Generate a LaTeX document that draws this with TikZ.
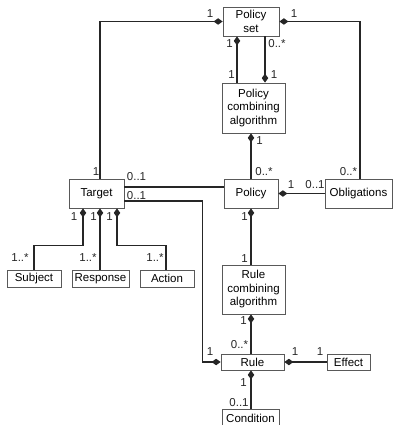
\documentclass[tikz,border=0pt]{standalone}
\usepackage{fontspec}
\setmainfont{Liberation Sans}
\usetikzlibrary{arrows.meta,positioning}

\begin{document}
\begin{tikzpicture}
%Policy language model
	[
	 x=1pt,y=-1pt,
	 %Styles
	 font=\fontsize{11.5}{13.5}\selectfont,
	 class_node/.style={rectangle,draw=black!65,line width=0.8pt,fill=white,inner sep=0pt,align=center,minimum height=17pt},
	 mult_label/.style={inner sep=0pt,text=black!85},
	 link/.style={draw=black!85,line width=1.4pt},
	 part_of/.style={link,{Diamond[length=9pt,width=6.5pt]}-},
	 whole_of/.style={link,-{Diamond[length=9pt,width=6.5pt]}}
	]
	\useasboundingbox (0,0) rectangle (394,425);

	%Node placement
	\node (pset) [class_node, minimum width=56pt, minimum height=29pt] at (251,21.5) {Policy\\set};
	\node (pca) [class_node, minimum width=63pt, minimum height=50pt] at (253.5,108) {Policy\\combining\\algorithm};
	\node (policy) [class_node, minimum width=54pt, minimum height=29pt] at (251,193.5) {Policy};
	\node (target) [class_node, minimum width=55pt, minimum height=29pt] at (96.5,193.5) {Target};
	\node (obl) [class_node, minimum width=67pt, minimum height=29pt] at (358.5,193.5) {Obligations};
	\node (subject) [class_node, minimum width=54pt] at (34,278.5) {Subject};
	\node (response) [class_node, minimum width=57pt] at (100.5,278.5) {Response};
	\node (action) [class_node, minimum width=54pt] at (167,278.5) {Action};
	\node (rca) [class_node, minimum width=63pt, minimum height=49pt] at (253.5,289.5) {Rule\\combining\\algorithm};
	\node (rule) [class_node, minimum width=63pt, minimum height=16pt] at (252.5,362) {Rule};
	\node (effect) [class_node, minimum width=43pt, minimum height=16pt] at (348.5,362) {Effect};
	\node (cond) [class_node, minimum width=57pt, minimum height=18pt] at (250.5,418) {Condition};

	%Edges
	\draw [part_of] (pset.west) -| ([xshift=3.5pt]target.north);
	\draw [part_of] (pset.east) -| ([xshift=1.5pt]obl.north);
	\draw [part_of] ([xshift=-14pt]pset.south) -- ([xshift=-14pt]pset.south |- pca.north);
	\draw [whole_of] ([xshift=14pt]pset.south) -- ([xshift=14pt]pset.south |- pca.north);
	\draw [part_of] (pca.south -| policy.north) -- (policy.north);
	\draw [link] ([yshift=6.5pt]target.east) -- ([yshift=6.5pt]target.east -| policy.west);
	\draw [whole_of] ([yshift=-7.5pt]target.east) -| ([xshift=-18pt]rule.west) -- (rule.west);
	\draw [part_of] (policy.east) -- (obl.west);
	\draw [part_of] (policy.south) -- (policy.south |- rca.north);
	\draw [part_of] (rca.south -| policy.south) -- (rule.north -| policy.south);
	\draw [part_of] (rule.east) -- (effect.west);
	\draw [part_of] (rule.south -| policy.south) -- (policy.south |- cond.north);
	\draw [part_of] ([xshift=-13.5pt]target.south) |- ([yshift=24pt]subject.north) -- (subject.north);
	\draw [part_of] ([xshift=3.5pt]target.south) -- ([xshift=3.5pt]target.south |- response.north);
	\draw [part_of] ([xshift=20.5pt]target.south) |- ([yshift=24pt,xshift=-1pt]action.north) -- ([xshift=-1pt]action.north);

	%Multiplicities
	\node (m_pset_l) [mult_label] at (210,13.5) {1};
	\node (m_pset_r) [mult_label] at (294,13.5) {1};
	\node (m_pset_a) [mult_label] at (229.5,44) {1};
	\node (m_pset_b) [mult_label] at (277,44) {0..*};
	\node (m_pca_a) [mult_label] at (231.5,74.5) {1};
	\node (m_pca_b) [mult_label] at (274,74.5) {1};
	\node (m_pca_c) [mult_label] at (259.5,141) {1};
	\node (m_pol_t) [mult_label] at (264,171.5) {0..*};
	\node (m_tgt_t) [mult_label] at (96,171.5) {1};
	\node (m_tgt_a) [mult_label] at (136.5,177) {0..1};
	\node (m_tgt_b) [mult_label] at (136.5,196) {0..1};
	\node (m_obl_t) [mult_label] at (348.5,171.5) {0..*};
	\node (m_pol_r) [mult_label] at (291,185) {1};
	\node (m_obl_l) [mult_label] at (315,185) {0..1};
	\node (m_tgt_s) [mult_label] at (74,216.5) {1};
	\node (m_tgt_r) [mult_label] at (93.5,216.5) {1};
	\node (m_tgt_c) [mult_label] at (109.5,216.5) {1};
	\node (m_pol_b) [mult_label] at (244.5,217) {1};
	\node (m_subj) [mult_label] at (20,258) {1..*};
	\node (m_resp) [mult_label] at (88,258) {1..*};
	\node (m_act) [mult_label] at (155,258) {1..*};
	\node (m_rca_t) [mult_label] at (244.5,259) {1};
	\node (m_rca_b) [mult_label] at (243.5,321) {1};
	\node (m_rule_t) [mult_label] at (239.5,345) {0..*};
	\node (m_rule_l) [mult_label] at (210,352) {1};
	\node (m_rule_r) [mult_label] at (295,352) {1};
	\node (m_eff) [mult_label] at (320,352) {1};
	\node (m_rule_b) [mult_label] at (243.5,382.5) {1};
	\node (m_cond) [mult_label] at (239,402.5) {0..1};
\end{tikzpicture}
\end{document}
